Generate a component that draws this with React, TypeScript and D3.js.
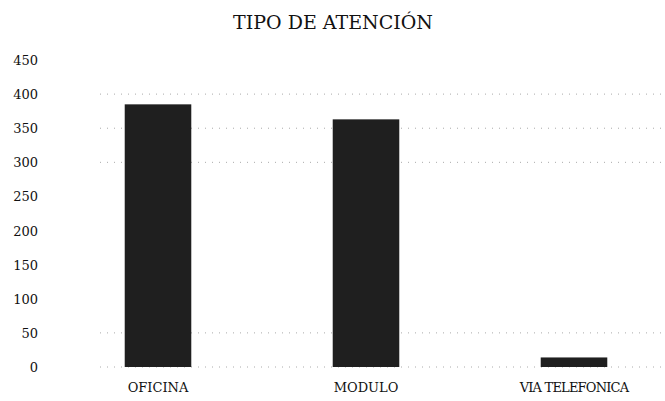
import React, { useEffect, useRef } from 'react';
import * as d3 from 'd3';

const categories = ['OFICINA', 'MODULO', 'VIA TELEFONICA'];
const values = [385, 363, 14];
const yTicks = [0, 50, 100, 150, 200, 250, 300, 350, 400, 450];
// gridlines that survived in the scan
const visibleGrid = [0, 50, 300, 350, 400];

export default function App() {
  const svgRef = useRef<SVGSVGElement>(null);

  useEffect(() => {
    if (!svgRef.current) return;
    const width = 665;
    const height = 401;
    const svg = d3.select(svgRef.current);
    svg.selectAll('*').remove();
    svg.attr('width', width).attr('height', height).style('background', '#fff');

    const font = '"DejaVu Serif", "Liberation Serif", serif';

    const x = d3.scaleBand<string>()
      .domain(categories)
      .range([54, 678])
      .paddingInner(0.68)
      .paddingOuter(0.34);

    const y = d3.scaleLinear().domain([0, 450]).range([367, 60]);

    // title
    svg.append('text')
      .attr('x', 333)
      .attr('y', 29)
      .attr('text-anchor', 'middle')
      .attr('font-family', font)
      .attr('font-size', 19)
      .attr('fill', '#111')
      .text('TIPO DE ATENCIÓN');

    // faint dotted gridlines
    svg.append('g')
      .selectAll('line')
      .data(visibleGrid)
      .join('line')
      .attr('x1', 100)
      .attr('x2', width)
      .attr('y1', d => y(d))
      .attr('y2', d => y(d))
      .attr('stroke', '#aaa')
      .attr('stroke-width', 1)
      .attr('stroke-dasharray', '1,6');

    // y labels
    svg.append('g')
      .selectAll('text')
      .data(yTicks)
      .join('text')
      .attr('x', 38)
      .attr('y', d => y(d) + 5)
      .attr('text-anchor', 'end')
      .attr('font-family', font)
      .attr('font-size', 13)
      .attr('fill', '#111')
      .text(d => d);

    // bars
    svg.append('g')
      .selectAll('rect')
      .data(categories)
      .join('rect')
      .attr('x', d => x(d)!)
      .attr('width', x.bandwidth())
      .attr('y', (d, i) => y(values[i]))
      .attr('height', (d, i) => y(0) - y(values[i]))
      .attr('fill', '#1f1f1f');

    // category labels
    svg.append('g')
      .selectAll('text')
      .data(categories)
      .join('text')
      .attr('x', d => x(d)! + x.bandwidth() / 2)
      .attr('y', 392)
      .attr('text-anchor', 'middle')
      .attr('font-family', font)
      .attr('font-size', 13)
      .attr('fill', '#111')
      .attr('letter-spacing', d => (d === 'VIA TELEFONICA' ? -0.8 : 0))
      .text(d => d);
  }, []);

  return (
    <div style={{ position: 'absolute', left: 0, top: 0 }}>
      <svg ref={svgRef}></svg>
    </div>
  );
}
